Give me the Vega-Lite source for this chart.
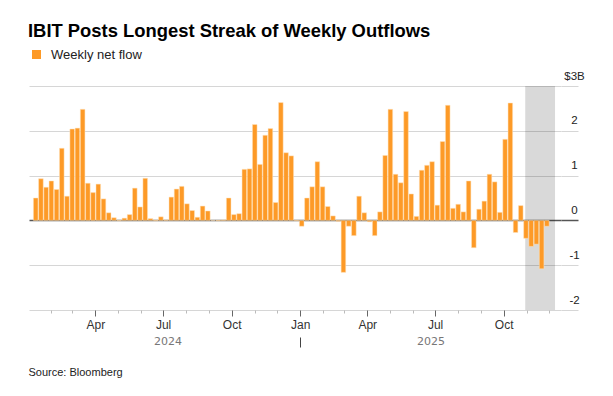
{
  "$schema": "https://vega.github.io/schema/vega-lite/v6.json",
  "width": 532,
  "height": 224,
  "autosize": {"type": "none"},
  "padding": {"left": 29, "top": 86, "right": 52, "bottom": 86},
  "background": "white",
  "config": {"view": {"stroke": null}, "font": "Liberation Sans", "scale": {"continuousPadding": 0}},
  "title": {"text": "IBIT Posts Longest Streak of Weekly Outflows", "anchor": "start", "frame": "group", "font": "Liberation Sans", "fontSize": 18.4, "fontWeight": "bold", "color": "#000000", "offset": 8, "dx": -1},
  "datasets": {
    "flows": [
      {"week": "2024-01-12", "flow": 0.50}, {"week": "2024-01-19", "flow": 0.93}, {"week": "2024-01-26", "flow": 0.74}, {"week": "2024-02-02", "flow": 0.88},
      {"week": "2024-02-09", "flow": 0.69}, {"week": "2024-02-16", "flow": 1.61}, {"week": "2024-02-23", "flow": 0.54}, {"week": "2024-03-01", "flow": 2.04},
      {"week": "2024-03-08", "flow": 2.06}, {"week": "2024-03-15", "flow": 2.48}, {"week": "2024-03-22", "flow": 0.83}, {"week": "2024-03-29", "flow": 0.62},
      {"week": "2024-04-05", "flow": 0.81}, {"week": "2024-04-12", "flow": 0.48}, {"week": "2024-04-19", "flow": 0.17}, {"week": "2024-04-26", "flow": 0.06},
      {"week": "2024-05-03", "flow": -0.01}, {"week": "2024-05-10", "flow": 0.05}, {"week": "2024-05-17", "flow": 0.13}, {"week": "2024-05-24", "flow": 0.72},
      {"week": "2024-05-31", "flow": 0.30}, {"week": "2024-06-07", "flow": 0.94}, {"week": "2024-06-14", "flow": 0.04}, {"week": "2024-06-21", "flow": -0.01},
      {"week": "2024-06-28", "flow": 0.08}, {"week": "2024-07-05", "flow": 0.01}, {"week": "2024-07-12", "flow": 0.52}, {"week": "2024-07-19", "flow": 0.70},
      {"week": "2024-07-26", "flow": 0.76}, {"week": "2024-08-02", "flow": 0.37}, {"week": "2024-08-09", "flow": 0.22}, {"week": "2024-08-16", "flow": 0.07},
      {"week": "2024-08-23", "flow": 0.32}, {"week": "2024-08-30", "flow": 0.21}, {"week": "2024-09-06", "flow": 0.00}, {"week": "2024-09-13", "flow": -0.01},
      {"week": "2024-09-20", "flow": 0.01}, {"week": "2024-09-27", "flow": 0.50}, {"week": "2024-10-04", "flow": 0.13}, {"week": "2024-10-11", "flow": 0.15},
      {"week": "2024-10-18", "flow": 1.14}, {"week": "2024-10-25", "flow": 1.15}, {"week": "2024-11-01", "flow": 2.14}, {"week": "2024-11-08", "flow": 1.25},
      {"week": "2024-11-15", "flow": 1.90}, {"week": "2024-11-22", "flow": 2.05}, {"week": "2024-11-29", "flow": 0.40}, {"week": "2024-12-06", "flow": 2.63},
      {"week": "2024-12-13", "flow": 1.51}, {"week": "2024-12-20", "flow": 1.44}, {"week": "2024-12-27", "flow": -0.01}, {"week": "2025-01-03", "flow": -0.13},
      {"week": "2025-01-10", "flow": 0.50}, {"week": "2025-01-17", "flow": 0.75}, {"week": "2025-01-24", "flow": 1.31}, {"week": "2025-01-31", "flow": 0.75},
      {"week": "2025-02-07", "flow": 0.31}, {"week": "2025-02-14", "flow": 0.10}, {"week": "2025-02-21", "flow": -0.02}, {"week": "2025-02-28", "flow": -1.16},
      {"week": "2025-03-07", "flow": -0.13}, {"week": "2025-03-14", "flow": -0.34}, {"week": "2025-03-21", "flow": 0.54}, {"week": "2025-03-28", "flow": 0.17},
      {"week": "2025-04-04", "flow": -0.03}, {"week": "2025-04-11", "flow": -0.34}, {"week": "2025-04-18", "flow": 0.19}, {"week": "2025-04-25", "flow": 1.45},
      {"week": "2025-05-02", "flow": 2.48}, {"week": "2025-05-09", "flow": 1.03}, {"week": "2025-05-16", "flow": 0.84}, {"week": "2025-05-23", "flow": 2.43},
      {"week": "2025-05-30", "flow": 0.59}, {"week": "2025-06-06", "flow": 0.09}, {"week": "2025-06-13", "flow": 1.12}, {"week": "2025-06-20", "flow": 1.23},
      {"week": "2025-06-27", "flow": 1.31}, {"week": "2025-07-04", "flow": 0.34}, {"week": "2025-07-11", "flow": 1.76}, {"week": "2025-07-18", "flow": 2.57},
      {"week": "2025-07-25", "flow": 0.27}, {"week": "2025-08-01", "flow": 0.36}, {"week": "2025-08-08", "flow": 0.19}, {"week": "2025-08-15", "flow": 0.88},
      {"week": "2025-08-22", "flow": -0.61}, {"week": "2025-08-29", "flow": 0.25}, {"week": "2025-09-05", "flow": 0.43}, {"week": "2025-09-12", "flow": 1.03},
      {"week": "2025-09-19", "flow": 0.86}, {"week": "2025-09-26", "flow": 0.18}, {"week": "2025-10-03", "flow": 1.81}, {"week": "2025-10-10", "flow": 2.62},
      {"week": "2025-10-17", "flow": -0.27}, {"week": "2025-10-24", "flow": 0.33}, {"week": "2025-10-31", "flow": -0.40}, {"week": "2025-11-07", "flow": -0.58},
      {"week": "2025-11-14", "flow": -0.53}, {"week": "2025-11-21", "flow": -1.08}, {"week": "2025-11-28", "flow": -0.13}
    ],
    "streak": [{"start": "2025-10-30", "end": "2025-12-09"}]
  },
  "layer": [
    {
      "data": {"name": "streak"},
      "mark": {"type": "rect", "color": "#000000", "opacity": 0.15},
      "encoding": {
        "x": {
          "field": "start", "type": "temporal",
          "scale": {"type": "utc", "nice": false, "padding": 0, "domain": [{"year": 2024, "month": 1, "date": 3, "utc": true}, {"year": 2025, "month": 12, "date": 17, "utc": true}]},
          "axis": {
            "orient": "bottom",
            "values": [{"year": 2024, "month": 7, "date": 7, "utc": true}, {"year": 2025, "month": 1, "date": 1, "utc": true}, {"year": 2025, "month": 6, "date": 25, "utc": true}],
            "labelExpr": "utcmonth(datum.value) == 0 ? '' : utcFormat(datum.value, '%Y')",
            "tickOpacity": {"condition": {"test": "utcmonth(datum.value) == 0", "value": 1}, "value": 0},
            "tickSize": 10, "tickColor": "#444444", "tickWidth": 1,
            "offset": 27, "labelPadding": -12, "domain": false, "grid": false, "title": null,
            "labelFont": "DejaVu Sans", "labelFontSize": 11, "labelColor": "#777777",
            "labelOverlap": false, "labelFlush": false, "labelBound": false
          }
        },
        "x2": {"field": "end"}
      }
    },
    {
      "data": {"name": "flows"},
      "mark": {"type": "bar", "size": 4.6, "color": "#fd9a27", "stroke": "#ffe2bd", "strokeWidth": 0.5},
      "encoding": {
        "x": {
          "field": "week", "type": "temporal",
          "axis": {
            "orient": "bottom",
            "values": [
              {"year": 2024, "month": 2, "date": 1, "utc": true}, {"year": 2024, "month": 3, "date": 1, "utc": true}, {"year": 2024, "month": 4, "date": 1, "utc": true},
              {"year": 2024, "month": 5, "date": 1, "utc": true}, {"year": 2024, "month": 6, "date": 1, "utc": true}, {"year": 2024, "month": 7, "date": 1, "utc": true},
              {"year": 2024, "month": 8, "date": 1, "utc": true}, {"year": 2024, "month": 9, "date": 1, "utc": true}, {"year": 2024, "month": 10, "date": 1, "utc": true},
              {"year": 2024, "month": 11, "date": 1, "utc": true}, {"year": 2024, "month": 12, "date": 1, "utc": true}, {"year": 2025, "month": 1, "date": 1, "utc": true},
              {"year": 2025, "month": 2, "date": 1, "utc": true}, {"year": 2025, "month": 3, "date": 1, "utc": true}, {"year": 2025, "month": 4, "date": 1, "utc": true},
              {"year": 2025, "month": 5, "date": 1, "utc": true}, {"year": 2025, "month": 6, "date": 1, "utc": true}, {"year": 2025, "month": 7, "date": 1, "utc": true},
              {"year": 2025, "month": 8, "date": 1, "utc": true}, {"year": 2025, "month": 9, "date": 1, "utc": true}, {"year": 2025, "month": 10, "date": 1, "utc": true},
              {"year": 2025, "month": 11, "date": 1, "utc": true}, {"year": 2025, "month": 12, "date": 1, "utc": true}
            ],
            "labelExpr": "utcmonth(datum.value) % 3 == 0 ? utcFormat(datum.value, '%b') : ''",
            "tickSize": {"condition": {"test": "utcmonth(datum.value) % 3 == 0", "value": 6}, "value": 3},
            "tickColor": {"condition": {"test": "utcmonth(datum.value) % 3 == 0", "value": "#666666"}, "value": "#bbbbbb"},
            "domain": false, "grid": false,
            "labelFontSize": 12, "labelColor": "#333333", "labelPadding": 3,
            "labelOverlap": false, "labelFlush": false, "labelBound": false,
            "title": "Source: Bloomberg", "titleX": -1, "titleY": 62, "titleAlign": "left", "titleAnchor": "start",
            "titleFontSize": 11, "titleFontWeight": "normal", "titleColor": "#222222", "titleBaseline": "middle"
          }
        },
        "y": {
          "field": "flow", "type": "quantitative",
          "scale": {"domain": [-2, 3], "nice": false},
          "axis": {
            "orient": "right", "values": [-2, -1, 0, 1, 2, 3],
            "labelExpr": "datum.value == 3 ? '$3B' : '' + datum.value",
            "grid": true,
            "gridColor": {"condition": {"test": "datum.value == 0", "value": "#555555"}, "value": "#d6d6d6"},
            "gridWidth": {"condition": {"test": "datum.value == 0", "value": 1.5}, "value": 1},
            "tickColor": {"condition": {"test": "datum.value == 0", "value": "#555555"}, "value": "#d6d6d6"},
            "tickWidth": {"condition": {"test": "datum.value == 0", "value": 1.5}, "value": 1},
            "tickSize": 17, "domain": false,
            "labelAlign": "center", "labelBaseline": "alphabetic", "labelPadding": -4, "labelOffset": -7,
            "labelFontSize": 11.5, "labelColor": "#222222", "title": null
          }
        },
        "color": {
          "datum": "Weekly net flow", "type": "nominal",
          "scale": {"range": ["#fd9a27"]},
          "legend": {"orient": "none", "legendX": 1, "legendY": -38, "title": null, "symbolType": "square", "symbolSize": 81, "symbolStrokeWidth": 0, "labelFontSize": 13, "labelColor": "#222222", "labelOffset": 8, "padding": 0}
        }
      }
    }
  ],
  "resolve": {"axis": {"x": "independent"}}
}
